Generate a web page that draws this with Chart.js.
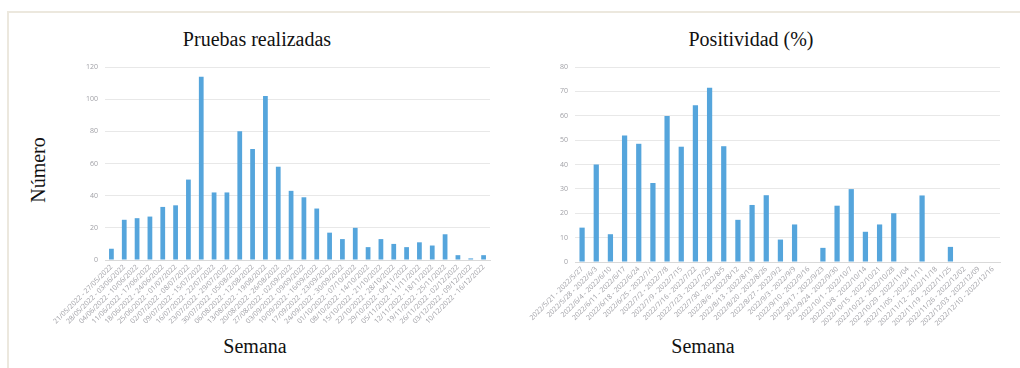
<!DOCTYPE html>
<html>
<head>
<meta charset="utf-8">
<script src="https://cdn.jsdelivr.net/npm/chart.js@4"></script>
<style>
  html, body { margin: 0; padding: 0; background: #fff; }
  body { width: 1020px; height: 368px; position: relative; overflow: hidden; }
  .frame {
    position: absolute; left: 7px; top: 11px; right: -10px; bottom: -10px;
    border-left: 2px solid #ece8de; border-top: 2px solid #ece8de;
  }
  .box { position: absolute; }
  .lbl {
    position: absolute; font-family: "Liberation Serif", "DejaVu Serif", serif;
    font-size: 20px; color: #111; white-space: nowrap; transform: translateX(-50%);
  }
  .vert { transform: translate(-50%, -50%) rotate(-90deg); }
</style>
</head>
<body>
<div class="frame"></div>

<div class="lbl" style="left:257px; top:28px;">Pruebas realizadas</div>
<div class="lbl" style="left:751px; top:28px;">Positividad (%)</div>
<div class="lbl" style="left:255px; top:335px;">Semana</div>
<div class="lbl" style="left:703px; top:335px;">Semana</div>
<div class="lbl vert" style="left:38px; top:170px;">Número</div>

<div class="box" style="left:40px; top:50px; width:460px; height:300px;"><canvas id="pruebas"></canvas></div>
<div class="box" style="left:520px; top:50px; width:490px; height:300px;"><canvas id="positividad"></canvas></div>

<script>
// semanas epidemiológicas (sábado a viernes)
const semanasPruebas = [
  "21/05/2022 - 27/05/2022", "28/05/2022 - 03/06/2022", "04/06/2022 - 10/06/2022",
  "11/06/2022 - 17/06/2022", "18/06/2022 - 24/06/2022", "25/06/2022 - 01/07/2022",
  "02/07/2022 - 08/07/2022", "09/07/2022 - 15/07/2022", "16/07/2022 - 22/07/2022",
  "23/07/2022 - 29/07/2022", "30/07/2022 - 05/08/2022", "06/08/2022 - 12/08/2022",
  "13/08/2022 - 19/08/2022", "20/08/2022 - 26/08/2022", "27/08/2022 - 02/09/2022",
  "03/09/2022 - 09/09/2022", "10/09/2022 - 16/09/2022", "17/09/2022 - 23/09/2022",
  "24/09/2022 - 30/09/2022", "01/10/2022 - 07/10/2022", "08/10/2022 - 14/10/2022",
  "15/10/2022 - 21/10/2022", "22/10/2022 - 28/10/2022", "29/10/2022 - 04/11/2022",
  "05/11/2022 - 11/11/2022", "12/11/2022 - 18/11/2022", "19/11/2022 - 25/11/2022",
  "26/11/2022 - 02/12/2022", "03/12/2022 - 09/12/2022", "10/12/2022 - 16/12/2022"
];
const semanasPositividad = [
  "2022/5/21 - 2022/5/27", "2022/5/28 - 2022/6/3", "2022/6/4 - 2022/6/10",
  "2022/6/11 - 2022/6/17", "2022/6/18 - 2022/6/24", "2022/6/25 - 2022/7/1",
  "2022/7/2 - 2022/7/8", "2022/7/9 - 2022/7/15", "2022/7/16 - 2022/7/22",
  "2022/7/23 - 2022/7/29", "2022/7/30 - 2022/8/5", "2022/8/6 - 2022/8/12",
  "2022/8/13 - 2022/8/19", "2022/8/20 - 2022/8/26", "2022/8/27 - 2022/9/2",
  "2022/9/3 - 2022/9/9", "2022/9/10 - 2022/9/16", "2022/9/17 - 2022/9/23",
  "2022/9/24 - 2022/9/30", "2022/10/1 - 2022/10/7", "2022/10/8 - 2022/10/14",
  "2022/10/15 - 2022/10/21", "2022/10/22 - 2022/10/28", "2022/10/29 - 2022/11/04",
  "2022/11/05 - 2022/11/11", "2022/11/12 - 2022/11/18", "2022/11/19 - 2022/11/25",
  "2022/11/26 - 2022/12/02", "2022/12/03 - 2022/12/09", "2022/12/10 - 2022/12/16"
];

const pruebas = [7, 25, 26, 27, 33, 34, 50, 114, 42, 42, 80, 69, 102, 58, 43,
                 39, 32, 17, 13, 20, 8, 13, 10, 8, 11, 9, 16, 3, 1, 3];
// null = semana sin positividad calculada
const positividad = [14.1, 40, 11.4, 51.9, 48.5, 32.4, 59.9, 47.3, 64.3, 71.5, 47.5,
                     17.3, 23.4, 27.4, 9.2, 15.4, null, 5.8, 23.1, 29.9, 12.4, 15.4,
                     20, null, 27.3, null, 6.2, null, null, null];

const pruebasTicks = { max: 120, step: 20 };
const positividadTicks = { max: 80, step: 10 };

const AZUL = "#55a5dc";
const GRIS = "#a0a0a6";

function barChart(id, labels, data, ticks, yWidth, xHeight, xFont) {
  return new Chart(document.getElementById(id), {
    type: "bar",
    data: {
      labels: labels,
      datasets: [{
        data: data,
        backgroundColor: AZUL,
        borderWidth: 0,
        barPercentage: 0.37,
        categoryPercentage: 1.0,
      }],
    },
    options: {
      responsive: true,
      maintainAspectRatio: false,
      animation: false,
      layout: { padding: { top: 17, right: 10, left: 0, bottom: 0 } },
      plugins: { legend: { display: false }, tooltip: { enabled: false } },
      scales: {
        x: {
          grid: { display: false, drawTicks: false },
          border: { color: "#d9d9d9" },
          ticks: {
            autoSkip: false, minRotation: 45, maxRotation: 45,
            color: GRIS, padding: 3,
            font: { family: "Open Sans", size: xFont },
          },
          afterFit: (scale) => { scale.height = xHeight; },
        },
        y: {
          min: 0, max: ticks.max,
          grid: { color: "#e8e8e8", drawTicks: false },
          border: { display: false },
          ticks: {
            stepSize: ticks.step, color: GRIS, padding: 7,
            font: { family: "Open Sans", size: 7 },
          },
          afterFit: (scale) => { scale.width = yWidth; },
        },
      },
    },
  });
}

barChart("pruebas", semanasPruebas, pruebas, pruebasTicks, 65, 90, 7);
barChart("positividad", semanasPositividad, positividad, positividadTicks, 55, 88, 7);
</script>
</body>
</html>
